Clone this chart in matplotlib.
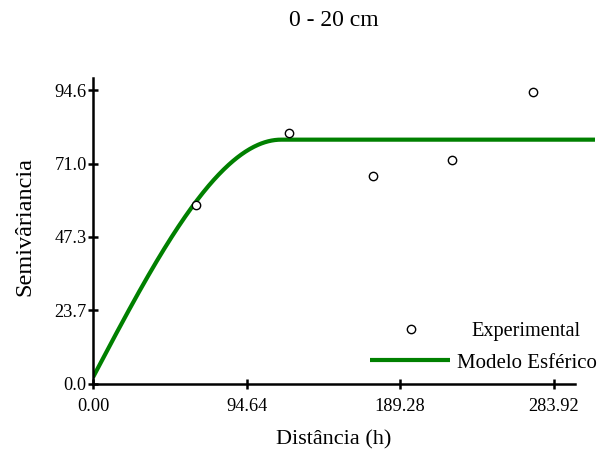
import numpy as np
import matplotlib
matplotlib.use("Agg")
import matplotlib.pyplot as plt

# Experimental semivariogram points
exp_h = [63.5, 121.0, 172.4, 221.3, 271.1]
exp_gamma = [57.7, 81.0, 66.9, 72.0, 94.2]

# Spherical model parameters
nugget = 2.0
partial_sill = 76.7
model_range = 116.0
h_max_line = 309.5

xticks = [0.00, 94.64, 189.28, 283.92]
yticks = [0.0, 23.7, 47.3, 71.0, 94.6]

title = "0 - 20 cm"
xlabel = "Distância (h)"
ylabel = "Semivâriancia"
legend_labels = ["Experimental", "Modelo Esférico"]

plt.rcParams['font.family'] = ['Liberation Serif', 'DejaVu Serif']

fig = plt.figure(figsize=(6.04, 4.66), dpi=100)
W, H = 604, 466
ax = fig.add_axes([93 / W, 1 - 383.5 / H, (595 - 93) / W, (383.5 - 78) / H])

h = np.linspace(0, h_max_line, 600)
g = np.where(h < model_range,
             nugget + partial_sill * (1.5 * h / model_range - 0.5 * (h / model_range) ** 3),
             nugget + partial_sill)
line, = ax.plot(h, g, color='#008000', lw=3.0, solid_capstyle='butt', zorder=2)
pts, = ax.plot(exp_h, exp_gamma, 'o', mfc='white', mec='black', mew=1.0, ms=6, zorder=3)

ax.set_xlim(0, h_max_line)
ax.set_ylim(0, 98.6)
ax.spines['top'].set_visible(False)
ax.spines['right'].set_visible(False)
ax.spines['bottom'].set_bounds(0, 297)
for s in ['left', 'bottom']:
    ax.spines[s].set_linewidth(1.8)
ax.set_xticks(xticks)
ax.set_xticklabels([f"{v:.2f}" for v in xticks])
ax.set_yticks(yticks)
ax.set_yticklabels([f"{v:.1f}" for v in yticks])
ax.tick_params(axis='both', direction='inout', length=7, width=1.8, labelsize=13.2, colors='black')
ax.tick_params(axis='x', pad=7)
ax.tick_params(axis='y', pad=1)

fig.text(334 / W, 1 - 440 / H, xlabel, ha='center', va='center', fontsize=16)
fig.text(25 / W, 1 - 226 / H, ylabel, ha='center', va='center', rotation=90, fontsize=17.5)
fig.text(334 / W, 1 - 21 / H, title, ha='center', va='center', fontsize=17)

common = dict(loc='upper left', bbox_transform=fig.transFigure, frameon=False,
              borderpad=0, borderaxespad=0, numpoints=1)
leg1 = ax.legend([pts], [legend_labels[0]], bbox_to_anchor=(371 / W, 1 - 322 / H),
                 fontsize=14.6, handlelength=3.95, handletextpad=0.99, **common)
ax.add_artist(leg1)
leg2 = ax.legend([line], [legend_labels[1]], bbox_to_anchor=(370 / W, 1 - 353 / H),
                 fontsize=15, handlelength=3.85, handletextpad=0.34, **common)

fig.savefig("out.png", dpi=100)
